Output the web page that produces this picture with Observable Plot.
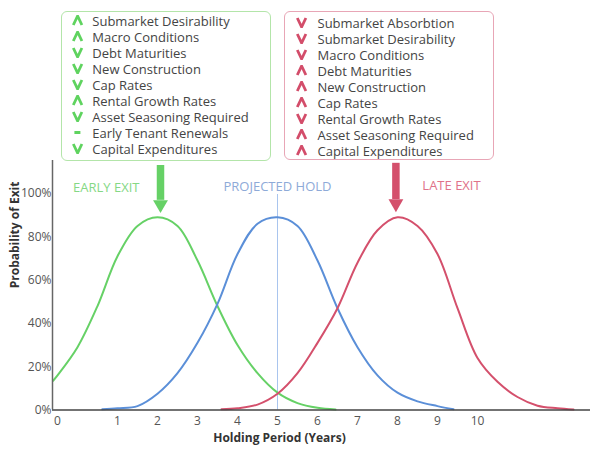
<!DOCTYPE html>
<html>
<head>
<meta charset="utf-8">
<script src="https://cdn.jsdelivr.net/npm/d3@7"></script>
<script src="https://cdn.jsdelivr.net/npm/@observablehq/plot@0.6"></script>
<style>
  html, body { margin: 0; padding: 0; background: #fff; }
  #wrap { position: relative; width: 600px; height: 461px; font-family: "Open Sans", sans-serif; }
  #wrap svg.plot { position: absolute; left: 0; top: 0; }
  .box { position: absolute; box-sizing: border-box; border-radius: 6px; background: #fff; }
  .row { position: absolute; height: 16px; line-height: 16px; font-size: 13px; color: #444; white-space: nowrap; }
  .row svg { position: absolute; top: 2.5px; }
</style>
</head>
<body>
<div id="wrap"></div>
<script>
// ---------- data ----------
const greenX = [-0.61, -0.5, 0, 0.5, 1, 1.5, 2, 2.5, 3, 3.5, 4, 4.5, 5, 5.5, 6, 6.45];
const greenY = [13.5, 16, 29, 48, 71, 85, 89, 85, 69, 48, 30, 17, 8, 3.2, 1, 0.2];
const blueX  = [0.62, 1, 1.5, 2, 2.5, 3, 3.5, 4, 4.5, 5, 5.5, 6, 6.5, 7, 7.5, 8, 8.5, 9, 9.4];
const blueY  = [0.3, 0.8, 1.8, 7.5, 17, 31, 49, 72, 86, 89, 85, 69, 47, 29, 16, 8, 4, 1.8, 0.3];
const redX   = [3.6, 4, 4.5, 5, 5.5, 6, 6.5, 7, 7.5, 8, 8.5, 9, 9.5, 10, 10.5, 11, 11.5, 12, 12.4];
const redY   = [0.3, 0.8, 2.5, 7.5, 17, 31, 47, 68, 83, 89, 85, 72, 47, 24, 13, 6, 2, 0.8, 0.2];

const xTickValues = [-0.5, 1, 2, 3, 4, 5, 6, 7, 8, 9, 10];
const xTickLabels = ["0", "1", "2", "3", "4", "5", "6", "7", "8", "9", "10"];
const yTicks = [0, 20, 40, 60, 80, 100];
const xDomain = [-0.625, 12.825];
const yDomain = [0, 115.2];

const labelTexts = ["EARLY EXIT", "PROJECTED HOLD", "LATE EXIT"];
const labelX = [0.72, 5.0, 9.35];
const labelY = [102.4, 103.2, 103.7];

const projectedHold = 5;
const holdTop = 99.5;

const arrowX = [2.075, 7.96];
const arrowTop = [112.9, 113.9];
const arrowHeadBase = [96.8, 97.2];
const arrowHeadCentroid = [94.9, 95.3];

const earlyFactors = ["Submarket Desirability", "Macro Conditions", "Debt Maturities", "New Construction", "Cap Rates", "Rental Growth Rates", "Asset Seasoning Required", "Early Tenant Renewals", "Capital Expenditures"];
const earlyDirs = ["up", "up", "down", "down", "down", "up", "down", "flat", "down"];
const lateFactors = ["Submarket Absorbtion", "Submarket Desirability", "Macro Conditions", "Debt Maturities", "New Construction", "Cap Rates", "Rental Growth Rates", "Asset Seasoning Required", "Capital Expenditures"];
const lateDirs = ["down", "down", "down", "up", "up", "up", "down", "up", "up"];

const xAxisTitle = "Holding Period (Years)";
const yAxisTitle = "Probability of Exit";

// ---------- colours ----------
const GREEN = "#66d166", BLUE = "#5b8fd8", RED = "#d4506c";
const GREEN_TXT = "#85d885", BLUE_TXT = "#8eaad8", RED_TXT = "#e0728a";

const pts = (xs, ys) => xs.map((x, i) => ({x, y: ys[i]}));

const chart = Plot.plot({
  width: 600, height: 461,
  marginTop: 160, marginBottom: 51.5, marginLeft: 52, marginRight: 10,
  style: {fontFamily: "'Open Sans', sans-serif", fontSize: "12px", color: "#555", background: "transparent"},
  x: {domain: xDomain},
  y: {domain: yDomain},
  marks: [
    Plot.axisX({ticks: xTickValues, tickFormat: d => xTickLabels[xTickValues.indexOf(d)], tickSize: 0, tickPadding: 6, label: null, fontSize: 12}),
    Plot.axisY({ticks: yTicks, tickFormat: d => d + "%", tickSize: 0, tickPadding: 1, label: null, fontSize: 12}),
    Plot.ruleX([projectedHold], {y1: 0, y2: holdTop, stroke: "#a9c5ee", strokeWidth: 1}),
    Plot.line(pts(greenX, greenY), {x: "x", y: "y", stroke: GREEN, strokeWidth: 2, curve: "catmull-rom"}),
    Plot.line(pts(blueX, blueY), {x: "x", y: "y", stroke: BLUE, strokeWidth: 2, curve: "catmull-rom"}),
    Plot.line(pts(redX, redY), {x: "x", y: "y", stroke: RED, strokeWidth: 2, curve: "catmull-rom"}),
    Plot.ruleX([xDomain[0]], {stroke: "#666", strokeWidth: 1.5}),
    Plot.ruleY([0], {stroke: "#444", strokeWidth: 1.5}),
    Plot.text([labelTexts[0]], {x: [labelX[0]], y: [labelY[0]], text: d => d, fill: GREEN_TXT, fontSize: 13}),
    Plot.text([labelTexts[1]], {x: [labelX[1]], y: [labelY[1]], text: d => d, fill: BLUE_TXT, fontSize: 13}),
    Plot.text([labelTexts[2]], {x: [labelX[2]], y: [labelY[2]], text: d => d, fill: RED_TXT, fontSize: 13}),
    Plot.ruleX([arrowX[0]], {y1: arrowTop[0], y2: arrowHeadBase[0], stroke: GREEN, strokeWidth: 7.5}),
    Plot.ruleX([arrowX[1]], {y1: arrowTop[1], y2: arrowHeadBase[1], stroke: RED, strokeWidth: 7.5}),
    Plot.dot([0], {x: [arrowX[0]], y: [arrowHeadCentroid[0]], symbol: "triangle", r: 5.5, fill: GREEN, rotate: 180}),
    Plot.dot([0], {x: [arrowX[1]], y: [arrowHeadCentroid[1]], symbol: "triangle", r: 5.5, fill: RED, rotate: 180}),
    Plot.text([xAxisTitle], {x: [5.05], frameAnchor: "bottom", dy: 31.5, text: d => d, fontWeight: "bold", fontSize: 12, fill: "#333"}),
    Plot.text([yAxisTitle], {frameAnchor: "left", dx: -37.5, dy: 3, rotate: -90, text: d => d, fontWeight: "bold", fontSize: 12, fill: "#333"})
  ]
});
chart.classList.add("plot");
const wrap = document.getElementById("wrap");
wrap.appendChild(chart);

function chevron(dir, color) {
  const ns = "http://www.w3.org/2000/svg";
  const s = document.createElementNS(ns, "svg");
  s.setAttribute("width", 12); s.setAttribute("height", 11);
  const p = document.createElementNS(ns, "path");
  const d = dir === "up" ? "M1.3,10 L5.6,1 L9.9,10" : dir === "down" ? "M1.3,1 L5.6,10 L9.9,1" : "M2.4,5.5 L8.4,5.5";
  p.setAttribute("d", d);
  p.setAttribute("fill", "none");
  p.setAttribute("stroke", color);
  p.setAttribute("stroke-width", dir === "flat" ? 3 : 2.8);
  p.setAttribute("stroke-linejoin", "miter");
  s.appendChild(p);
  return s;
}

function makeBox(left, top, w, h, border, factors, dirs, color, firstCenter, iconX, textX) {
  const box = document.createElement("div");
  box.className = "box";
  Object.assign(box.style, {left: left + "px", top: top + "px", width: w + "px", height: h + "px", border: "1.5px solid " + border});
  wrap.appendChild(box);
  factors.forEach((f, i) => {
    const row = document.createElement("div");
    row.className = "row";
    const cy = top + firstCenter + i * 16.02;
    Object.assign(row.style, {left: left + "px", top: (cy - 8) + "px", width: w + "px"});
    const ic = chevron(dirs[i], color);
    ic.style.left = iconX + "px";
    row.appendChild(ic);
    const t = document.createElement("span");
    t.textContent = f;
    t.style.position = "absolute";
    t.style.left = textX + "px";
    row.appendChild(t);
    wrap.appendChild(row);
  });
}

makeBox(61, 11, 209.5, 149.5, "#b3e5a9", earlyFactors, earlyDirs, "#5fd35f", 9.7, 10.5, 31.3);
makeBox(283.5, 10.7, 210, 149.3, "#e8a6b6", lateFactors, lateDirs, "#d34d6a", 12, 12.2, 34);
</script>
</body>
</html>
